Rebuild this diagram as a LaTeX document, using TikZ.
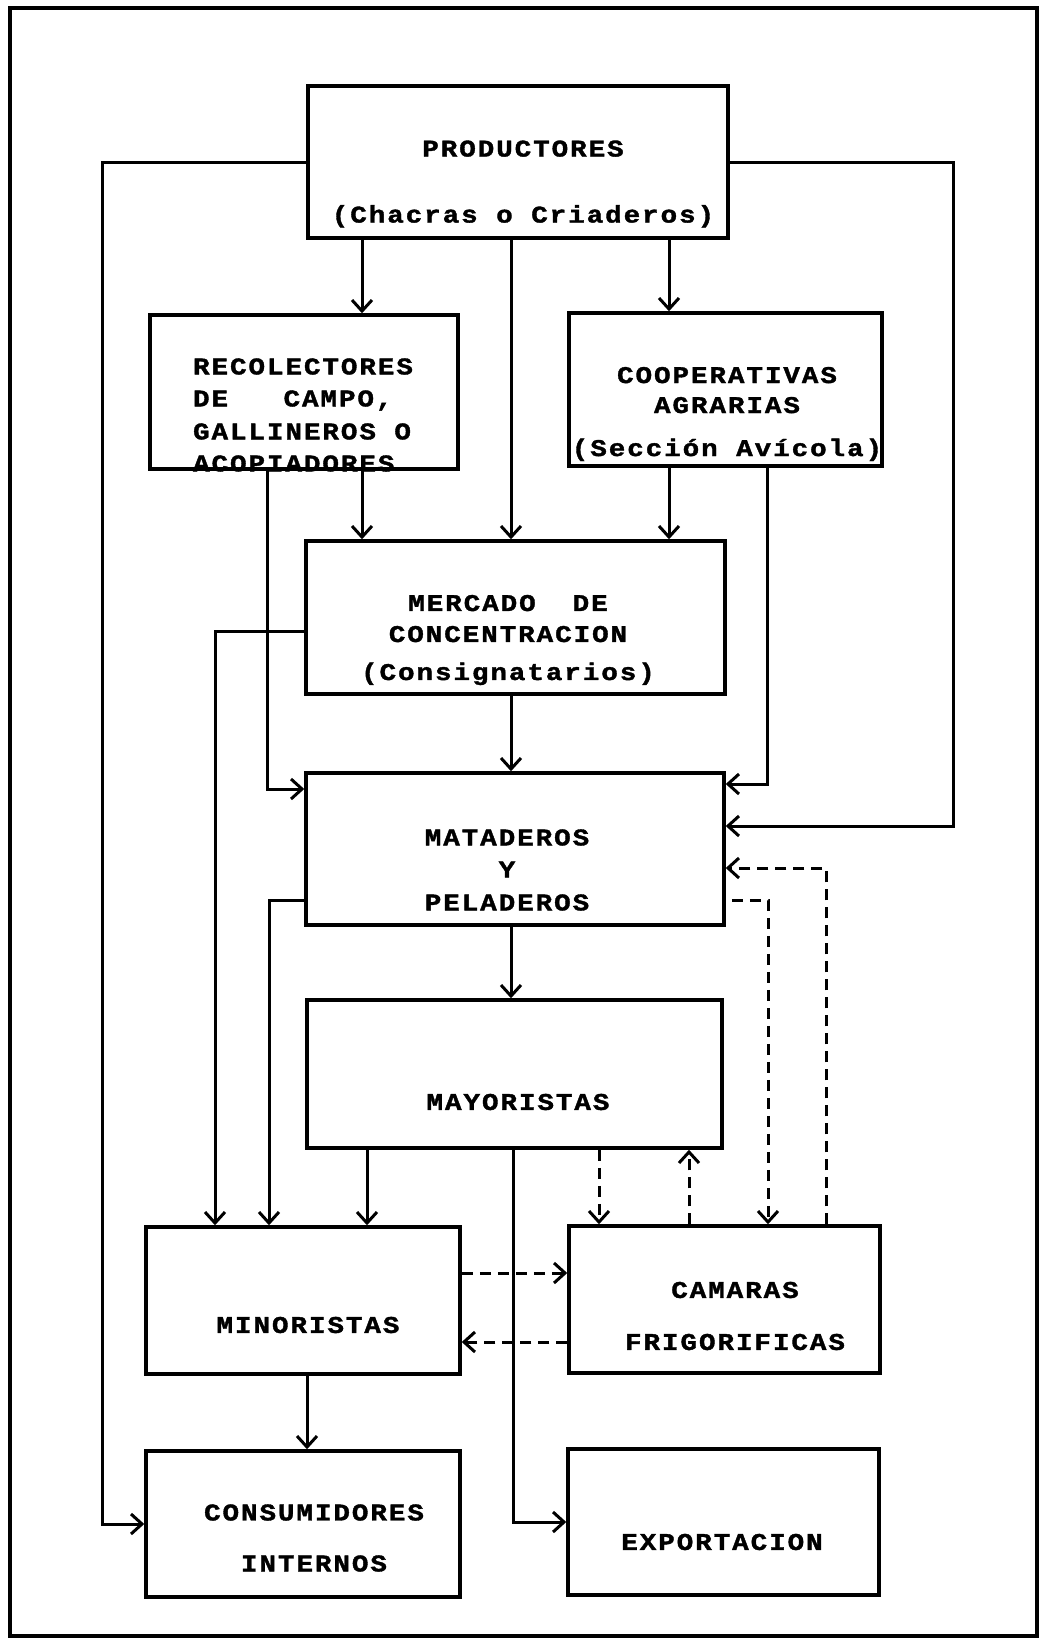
\documentclass[tikz,border=0pt]{standalone}
\usepackage{fontspec}
\newfontfamily\tw{Liberation Mono}[FakeStretch=1.15,LetterSpace=8,FakeBold=1.5]
\usetikzlibrary{arrows.meta,calc}
\begin{document}
\begin{tikzpicture}[x=1pt,y=-1pt,
  box/.style={draw,line width=3.5pt,inner sep=0pt},
  txt/.style={font=\tw\bfseries\fontsize{24}{30}\selectfont,inner sep=0pt,align=center},
  arr/.style={line width=3pt,-{Straight Barb[length=11pt,width=20pt]}},
  dsh/.style={arr,dash pattern=on 11pt off 7pt}]
\useasboundingbox (0,0) rectangle (1045,1650);
\draw[line width=3.5pt] (10,8) rectangle (1037,1636);

% boxes
\node[box,minimum width=420pt,minimum height=152pt] (prod) at (518,162) {};
\node[box,minimum width=308pt,minimum height=154pt] (rec) at (304,392) {};
\node[box,minimum width=313pt,minimum height=153pt] (coop) at (725.5,389.5) {};
\node[box,minimum width=419pt,minimum height=153pt] (merc) at (515.5,617.5) {};
\node[box,minimum width=418pt,minimum height=152pt] (mat) at (515,849) {};
\node[box,minimum width=415pt,minimum height=148pt] (may) at (514.5,1074) {};
\node[box,minimum width=314pt,minimum height=147pt] (min) at (303,1300.5) {};
\node[box,minimum width=311pt,minimum height=147pt] (cam) at (724.5,1299.5) {};
\node[box,minimum width=314pt,minimum height=146pt] (con) at (303,1524) {};
\node[box,minimum width=311pt,minimum height=146pt] (exp) at (723.5,1522) {};

% solid connectors
\draw[arr] (prod.west) -- ++(-204,0) |- (con.west);
\draw[arr] (prod.east) -- ++(224,0) |- ($(mat.east)+(0,-23)$);
\draw[arr] ($(prod.south)+(-156,0)$) coordinate (p1) -- (p1 |- rec.north);
\draw[arr] ($(prod.south)+(-7,0)$) coordinate (p2) -- (p2 |- merc.north);
\draw[arr] ($(prod.south)+(151,0)$) coordinate (p3) -- (p3 |- coop.north);
\draw[arr] ($(rec.south)+(58,0)$) coordinate (r1) -- (r1 |- merc.north);
\draw[arr] ($(rec.south)+(-37,0)$) |- ($(mat.west)+(0,-60)$);
\draw[arr] ($(coop.south)+(-56.5,0)$) coordinate (c1) -- (c1 |- merc.north);
\draw[arr] ($(coop.south)+(41.5,0)$) |- ($(mat.east)+(0,-65)$);
\draw[arr] ($(merc.south)+(-4.5,0)$) coordinate (m1) -- (m1 |- mat.north);
\draw[arr] ($(merc.west)+(0,13.5)$) -| ($(min.north)+(-88,0)$);
\draw[arr] ($(mat.west)+(0,51)$) -| ($(min.north)+(-34,0)$);
\draw[arr] ($(mat.south)+(-4,0)$) coordinate (t1) -- (t1 |- may.north);
\draw[arr] ($(may.south)+(-147.5,0)$) coordinate (y1) -- (y1 |- min.north);
\draw[arr] ($(may.south)+(-1.5,0)$) |- (exp.west);
\draw[arr] ($(min.south)+(4,0)$) coordinate (n1) -- (n1 |- con.north);

% dashed connectors
\draw[dsh] ($(may.south)+(84.5,0)$) coordinate (y2) -- (y2 |- cam.north);
\draw[dsh] ($(cam.north)+(-35.5,0)$) coordinate (k1) -- (k1 |- may.south);
\draw[dsh] ($(cam.north)+(101.5,0)$) |- ($(mat.east)+(0,19)$);
\draw[dsh] ($(mat.east)+(6,51)$) -| ($(cam.north)+(43.5,0)$);
\draw[dsh] ($(min.east)+(0,-27.5)$) coordinate (n2) -- (n2 -| cam.west);
\draw[dsh] ($(cam.west)+(0,42.5)$) coordinate (k2) -- (k2 -| min.east);

% texts
\node[txt] (tprod) at (523,184) {PRODUCTORES\\[36pt](Chacras o Criaderos)};
\node[txt,align=left] (trec) at (303,415) {RECOLECTORES\\[2pt]DE\ \ \ CAMPO,\\[3pt]GALLINEROS O\\[2pt]ACOPIADORES};
\node[txt] (tcoop) at (727,414) {COOPERATIVAS\\AGRARIAS\\[13pt](Sección Avícola)};
\node[txt] (tmerc) at (508,640) {MERCADO\ \ DE\\[1pt]CONCENTRACION\\[8pt](Consignatarios)};
\node[txt] (tmat) at (507,870) {MATADEROS\\[2pt]Y\\[3pt]PELADEROS};
\node[txt] (tmay) at (518,1102) {MAYORISTAS};
\node[txt] (tmin) at (308,1325) {MINORISTAS};
\node[txt] (tcam) at (735,1316) {CAMARAS\\[22pt]FRIGORIFICAS};
\node[txt] (tcon) at (314,1538) {CONSUMIDORES\\[21pt]INTERNOS};
\node[txt] (texp) at (722,1542) {EXPORTACION};
\end{tikzpicture}
\end{document}
